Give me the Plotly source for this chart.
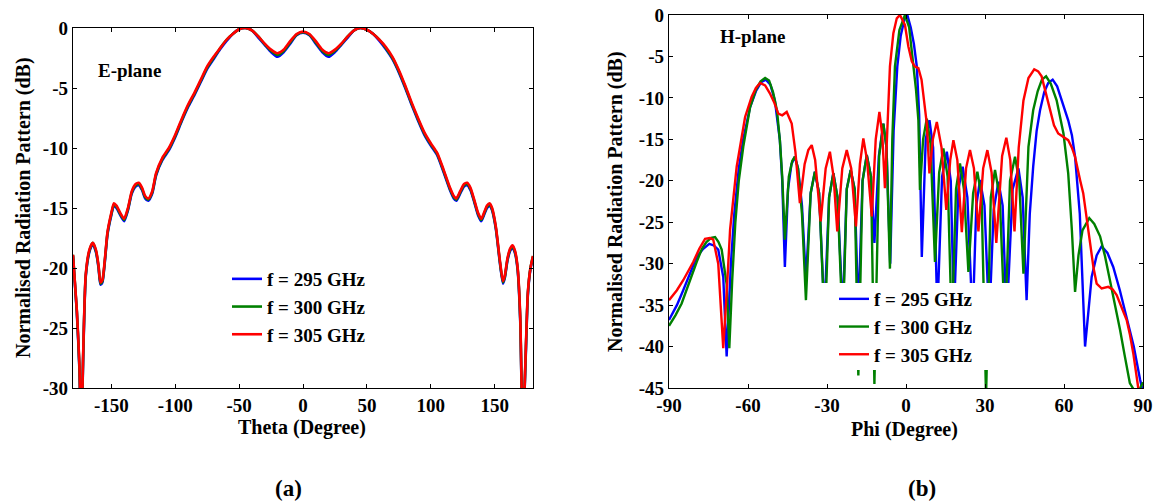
import plotly.graph_objects as go

# ---------------- E-plane (a) ----------------
theta_e = [-180, -177, -175, -173.5, -172, -170, -167, -164.5, -162, -160, -158.5, -157, -155, -153,
           -150, -148, -146, -143, -140, -137, -134, -131, -128.5, -126, -123.5, -121, -118, -115,
           -110, -105, -100, -95, -90, -85, -80, -75, -70, -65, -60, -55, -50, -45, -40, -35, -30,
           -25, -20, -15, -10, -5, 0, 5, 10, 15, 20, 25, 30, 35, 40, 45, 50, 55, 60, 65, 70, 75,
           80, 85, 90, 95, 100, 105, 110, 115, 118, 120, 123, 126, 128.5, 131, 134, 137, 139.5,
           142, 144, 146, 148, 151, 154, 156.5, 158, 160, 162, 164, 166, 168, 170, 172, 174, 176,
           178, 180]

e_305 = [-18.9, -23.5, -28.0, -34.0, -27.0, -20.5, -18.4, -17.9, -18.5, -19.8, -21.2, -21.0, -19.2, -17.0,
         -15.4, -14.6, -14.8, -15.4, -15.9, -15.0, -13.6, -13.0, -12.9, -13.3, -14.0, -14.2, -13.6, -12.1,
         -10.8, -10.0, -8.9, -7.6, -6.4, -5.4, -4.3, -3.2, -2.4, -1.7, -1.0, -0.5, -0.1, 0.0, -0.2, -0.7, -1.3,
         -1.8, -2.1, -1.8, -1.1, -0.5, -0.3, -0.5, -1.1, -1.8, -2.1, -1.8, -1.3, -0.7, -0.2, 0.0, -0.15, -0.5, -1.0, -1.6, -2.4, -3.5,
         -4.8, -6.2, -7.5, -8.7, -9.6, -10.4, -11.8, -13.3, -14.0, -14.2, -13.6, -13.0, -12.9, -13.3, -14.3, -15.4, -15.9,
         -15.3, -14.8, -14.6, -15.0, -16.6, -19.3, -21.1, -20.6, -19.2, -18.4, -18.1, -18.6, -20.0, -24.0, -34.0, -28.0, -22.0,
         -20.0, -19.0]

e_300 = [-18.9, -23.6, -28.2, -34.0, -27.2, -20.6, -18.5, -17.9, -18.6, -19.9, -21.3, -21.1, -19.3, -17.1,
         -15.5, -14.7, -14.9, -15.5, -16.0, -15.1, -13.7, -13.1, -13.0, -13.4, -14.1, -14.3, -13.7, -12.2,
         -10.9, -10.1, -9.0, -7.7, -6.5, -5.5, -4.4, -3.3, -2.5, -1.7, -1.0, -0.5, -0.1, 0.0, -0.2, -0.7, -1.35,
         -1.9, -2.25, -1.9, -1.2, -0.55, -0.35, -0.55, -1.2, -1.9, -2.25, -1.9, -1.35, -0.7, -0.2, 0.0, -0.15, -0.5, -1.0, -1.7, -2.5, -3.6,
         -4.9, -6.3, -7.6, -8.8, -9.7, -10.5, -11.9, -13.4, -14.1, -14.3, -13.7, -13.1, -13.0, -13.4, -14.4, -15.5, -16.0,
         -15.4, -14.9, -14.7, -15.1, -16.7, -19.4, -21.2, -20.7, -19.3, -18.5, -18.2, -18.7, -20.1, -24.2, -34.0, -28.2, -22.1,
         -20.0, -19.0]

e_295 = [-19.0, -23.7, -28.4, -34.0, -27.4, -20.7, -18.6, -18.0, -18.7, -20.0, -21.4, -21.2, -19.4, -17.2,
         -15.6, -14.8, -15.0, -15.6, -16.1, -15.2, -13.8, -13.2, -13.1, -13.5, -14.2, -14.4, -13.8, -12.3,
         -11.0, -10.2, -9.1, -7.8, -6.6, -5.6, -4.5, -3.4, -2.6, -1.8, -1.1, -0.5, -0.1, 0.0, -0.2, -0.8, -1.4,
         -2.0, -2.4, -2.0, -1.3, -0.6, -0.4, -0.6, -1.3, -2.0, -2.4, -2.0, -1.4, -0.8, -0.2, 0.0, -0.15, -0.5, -1.1, -1.8, -2.6, -3.7,
         -5.0, -6.4, -7.7, -8.9, -9.8, -10.6, -12.0, -13.5, -14.2, -14.4, -13.8, -13.2, -13.1, -13.5, -14.5, -15.6, -16.1,
         -15.5, -15.0, -14.8, -15.2, -16.8, -19.5, -21.3, -20.8, -19.4, -18.6, -18.3, -18.8, -20.2, -24.4, -34.0, -28.4, -22.2,
         -20.1, -19.1]

# ---------------- H-plane (b) ----------------
phi_305 = [-90, -87, -84.6, -80.8, -78.5, -76.3, -74.5, -73.2, -71.3, -69.4, -68, -66.8, -64.3, -61.1,
           -58.6, -57, -55.4, -53.5, -51.7, -50, -48.5, -47, -45.3, -43.4, -42, -40.3, -38.5, -37.1,
           -35.8, -34.5, -32.4, -30.5, -28.9, -27.5, -26.1, -24.2, -22.5, -20.8, -19, -17.5, -16.2,
           -14.8, -13, -11.5, -10.1, -9, -8, -6.8, -6.1, -4.8, -3.5, -2.3, -0.4, 0.9, 2.2, 3.3, 4.7,
           5.9, 7.9, 8.9, 10.2, 11.7, 13.5, 15.3, 16.8, 18, 19.5, 21.2, 22.8, 24.3, 25.8, 27.5, 29.3,
           30.9, 32.5, 34.3, 36.5, 38.1, 39.6, 41.2, 42.8, 44.6, 46.5, 48.7, 50.2, 51.5, 53, 54.7,
           56.2, 57.8, 59.8, 61.6, 63, 64.2, 66.1, 67.3, 69.9, 71.2, 72.4, 74.3, 76.8, 78.5, 80, 82,
           83.8, 85, 86.3, 88.2, 89.5]
h_305 = [-34.4, -33.2, -32.0, -29.8, -28.2, -27.0, -26.9, -27.1, -30.0, -40.2, -33.0, -25.9, -18.3, -12.3,
         -9.85, -8.8, -8.2, -8.5, -9.45, -10.6, -11.9, -12.1, -11.7, -13.1, -16.5, -22.7, -18.0, -16.3,
         -15.7, -17.5, -24.9, -18.5, -16.5, -19.5, -26.1, -18.5, -16.3, -18.5, -25.5, -18.0, -14.9,
         -17.5, -24.3, -15.0, -11.7, -14.5, -20.9, -12.0, -6.2, -2.2, -0.4, 0.0, -1.2, -3.8, -5.6, -6.2, -6.4,
         -7.8, -13.1, -19.1, -15.0, -12.9, -16.0, -23.5, -17.5, -15.1, -17.5, -26.2, -18.5, -16.3, -18.5, -26.1, -18.5,
         -16.3, -19.0, -27.5, -17.0, -14.8, -17.5, -26.1, -16.0, -10.3, -7.6, -6.55, -6.8, -7.4, -9.2, -11.5,
         -13.3, -14.3, -14.7, -15.1, -16.0, -17.1, -19.9, -21.5, -27.5, -30.5, -32.4, -33.0, -32.8, -33.1, -33.8, -35.3,
         -36.8, -38.5, -40.8, -45.0, -46.0]

phi_295 = [-90, -87, -84.6, -82, -79.5, -77, -74.7, -73, -71.3, -69.4, -68.1, -66.5, -65.2, -63.5, -61.8,
           -59.2, -57, -55, -53.2, -51.5, -49.8, -47.9, -47, -46, -44.8, -43.5, -42.2, -41, -39.5, -38,
           -36.2, -34.6, -33, -31, -29.2, -27.6, -26, -24, -22.5, -21, -19.5, -18.1, -16.5, -14.9, -13.3,
           -12, -10.3, -8.6, -7.4, -6, -4.7, -3.3, -2, -0.5, 0.5, 1.8, 3, 4.1, 5, 6, 7.5, 8.9, 10.3, 11.9,
           13.7, 15.5, 17, 18.2, 19.9, 21.5, 23.3, 25.3, 26.7, 28.1, 29.8, 31.6, 33.3, 35.1, 36.7, 38.2,
           40.5, 42.7, 44.3, 45.8, 47, 48.3, 49.6, 50.9, 52.5, 54, 55.7, 57.4, 59.1, 60.5, 61.6, 63, 64.2,
           66, 68, 69.2, 70.5, 72.4, 74.3, 76.5, 78.7, 81.2, 83.8, 86.5, 88.9, 90]
h_295 = [-36.8, -35.0, -33.2, -31.2, -29.2, -28.2, -27.6, -27.8, -28.3, -31.6, -41.2, -30.0, -24.0, -18.5, -15.0,
         -11.1, -9.2, -8.1, -7.8, -8.4, -10.3, -15.1, -20.0, -30.4, -21.0, -18.0, -17.1, -18.5, -23.0, -32.0,
         -21.5, -18.9, -21.5, -36.0, -22.0, -19.1, -22.0, -36.0, -21.0, -18.7, -21.0, -36.0, -20.0, -16.9, -19.5,
         -27.5, -17.0, -13.1, -16.0, -30.0, -14.0, -6.2, -2.5, -0.4, 0.0, -1.5, -3.5, -6.2, -12.0, -29.2, -15.0, -12.7, -16.0, -36.0,
         -19.5, -16.5, -20.0, -36.0, -21.0, -18.3, -22.0, -37.0, -23.0, -19.9, -23.0, -37.0, -23.5, -20.1, -23.0, -37.0,
         -21.0, -18.5, -22.0, -34.4, -24.0, -18.3, -14.0, -11.5, -9.3, -8.2, -7.8, -8.6, -10.3, -11.5, -12.7, -14.5, -17.1,
         -24.0, -40.0, -36.0, -31.6, -29.0, -27.9, -28.7, -30.4, -33.2, -36.4, -40.0, -44.0, -45.5]

phi_300 = [-90, -87.5, -85.2, -82.3, -79.5, -77.5, -75.8, -74, -72.5, -71.2, -70, -68.1, -67.1, -66, -64.8,
           -63.5, -61.8, -59.2, -57, -55.2, -53.5, -52, -50.5, -49, -47.9, -47, -46, -44.5, -43.2, -42.2,
           -41, -39.5, -38, -36.2, -34.6, -33, -30.8, -29.2, -27.6, -26, -24, -22.5, -21, -19.5, -18.1,
           -16.5, -14.9, -13.3, -12, -10.2, -8.6, -7.4, -6.1, -5.2, -4.2, -2.5, -0.4, 1.2, 2.8, 3.8, 4.7,
           5.3, 6.5, 7.9, 9.3, 11, 12.6, 14.2, 15.8, 17.4, 19, 20.5, 22, 23.7, 25.5, 27.1, 28.7, 30.4,
           32.2, 33.8, 35.6, 37.6, 39.5, 41.4, 43, 44.6, 46.5, 48.3, 50, 51.6, 53.2, 55, 57.2, 59.8, 61.6,
           63, 64.2, 65.5, 67, 69.6, 71.5, 73.7, 75.5, 77.5, 79.5, 81.3, 83, 85, 86.5, 88.5, 90]
h_300 = [-37.5, -36.2, -34.8, -32.2, -29.8, -28.2, -27.4, -26.9, -26.8, -27.4, -28.3, -32.5, -40.2, -32.0, -25.0,
         -20.0, -15.9, -11.1, -9.0, -8.0, -7.6, -7.9, -9.3, -11.5, -15.1, -19.5, -27.1, -19.5, -17.6, -17.1,
         -18.5, -24.0, -34.4, -21.5, -18.9, -21.5, -38.0, -22.0, -19.1, -22.0, -38.0, -21.0, -18.7, -21.0, -43.5,
         -20.0, -16.9, -19.5, -44.5, -17.0, -13.1, -16.0, -30.6, -15.0, -6.2, -1.8, 0.0, -1.5, -6.2, -9.0, -12.7,
         -21.1, -15.0, -12.5, -15.5, -29.8, -19.0, -16.1, -19.5, -38.0, -21.0, -17.9, -21.0, -31.0, -21.5, -18.9, -22.0, -46.0,
         -22.0, -18.7, -22.0, -38.0, -20.0, -17.1, -20.0, -31.2, -15.9, -11.5, -9.2, -7.8, -7.4, -8.3, -10.3, -14.3, -19.1,
         -26.0, -33.4, -29.0, -26.0, -24.5, -25.2, -26.7, -29.0, -32.0, -35.0, -38.0, -41.0, -44.4, -45.2, -45.3, -44.3]

x_ticks_e = [-150, -100, -50, 0, 50, 100, 150]
x_labels_e = ["-150", "-100", "-50", "0", "50", "100", "150"]
y_ticks_e = [0, -5, -10, -15, -20, -25, -30]
y_labels_e = ["0", "-5", "-10", "-15", "-20", "-25", "-30"]
x_ticks_h = [-90, -60, -30, 0, 30, 60, 90]
x_labels_h = ["-90", "-60", "-30", "0", "30", "60", "90"]
y_ticks_h = [0, -5, -10, -15, -20, -25, -30, -35, -40, -45]
y_labels_h = ["0", "-5", "-10", "-15", "-20", "-25", "-30", "-35", "-40", "-45"]

legend_names = ["f = 295 GHz", "f = 300 GHz", "f = 305 GHz"]
colors = ["#0000FF", "#008000", "#FF0000"]

FONT = "Liberation Serif"
W, H = 1154, 501

fig = go.Figure()
for name, col, vals in zip(legend_names, colors, [e_295, e_300, e_305]):
    fig.add_trace(go.Scatter(x=theta_e, y=vals, mode="lines", name=name,
                             line=dict(color=col, width=2.6, shape="spline", smoothing=0.6),
                             xaxis="x", yaxis="y", legend="legend"))
for name, col, ph, vals in zip(legend_names, colors, [phi_295, phi_300, phi_305], [h_295, h_300, h_305]):
    fig.add_trace(go.Scatter(x=ph, y=vals, mode="lines", name=name,
                             line=dict(color=col, width=2.4),
                             xaxis="x2", yaxis="y2", legend="legend2"))

axis_common = dict(showline=True, linecolor="black", linewidth=1.3, mirror="ticks",
                   ticks="inside", ticklen=4, tickcolor="black", tickwidth=1,
                   showgrid=False, zeroline=False, automargin=False,
                   tickfont=dict(family=FONT, size=19, color="black", weight="bold"))

def px(x):
    return x / W

def py(y):
    return (H - y) / H

leg_font = dict(family=FONT, size=19, color="black", weight="bold")
fig.update_layout(
    width=W, height=H, margin=dict(l=0, r=0, t=0, b=0, pad=0, autoexpand=False),
    paper_bgcolor="white", plot_bgcolor="white",
    font=dict(family=FONT, color="black", weight="bold"),
    xaxis=dict(domain=[px(73), px(533)], range=[-180, 180], tickvals=x_ticks_e, ticktext=x_labels_e,
               anchor="y", **axis_common),
    yaxis=dict(domain=[py(388), py(28)], range=[-30, 0], tickvals=y_ticks_e, ticktext=y_labels_e,
               anchor="x", **axis_common),
    xaxis2=dict(domain=[px(669), px(1143)], range=[-90, 90], tickvals=x_ticks_h, ticktext=x_labels_h,
                anchor="y2", **axis_common),
    yaxis2=dict(domain=[py(388), py(15)], range=[-45, 0], tickvals=y_ticks_h, ticktext=y_labels_h,
                anchor="x2", **axis_common),
    legend=dict(x=px(227), y=py(260), xanchor="left", yanchor="top", bgcolor="rgba(255,255,255,0)",
                font=leg_font),
    legend2=dict(x=px(834), y=py(280), xanchor="left", yanchor="top", bgcolor="rgba(255,255,255,0)",
                 font=leg_font),
    showlegend=True,
)

# white legend box of panel (b), covering the curves beneath it
fig.add_shape(type="rect", xref="paper", yref="paper", x0=px(812), x1=px(1015), y0=py(370), y1=py(283),
              fillcolor="white", line=dict(width=0), layer="above")

ann_font = dict(family=FONT, color="black", weight="bold")
annotations = [
    dict(text="E-plane", x=px(129), y=py(70), size=19),
    dict(text="H-plane", x=px(752), y=py(37), size=19),
    dict(text="Theta (Degree)", x=px(302), y=py(427), size=20),
    dict(text="Phi (Degree)", x=px(904), y=py(429), size=20),
    dict(text="(a)", x=px(288), y=py(488), size=23),
    dict(text="(b)", x=px(922), y=py(488), size=23),
]
for a in annotations:
    fig.add_annotation(text=a["text"], x=a["x"], y=a["y"], xref="paper", yref="paper",
                       xanchor="center", yanchor="middle", showarrow=False,
                       font=dict(size=a["size"], **ann_font))
for xc, yc in [(23, 208), (615, 202)]:
    fig.add_annotation(text="Normalised Radiation Pattern (dB)", x=px(xc), y=py(yc), xref="paper", yref="paper",
                       xanchor="center", yanchor="middle", showarrow=False, textangle=-90,
                       font=dict(size=20, **ann_font))

fig.write_html("out.html")
